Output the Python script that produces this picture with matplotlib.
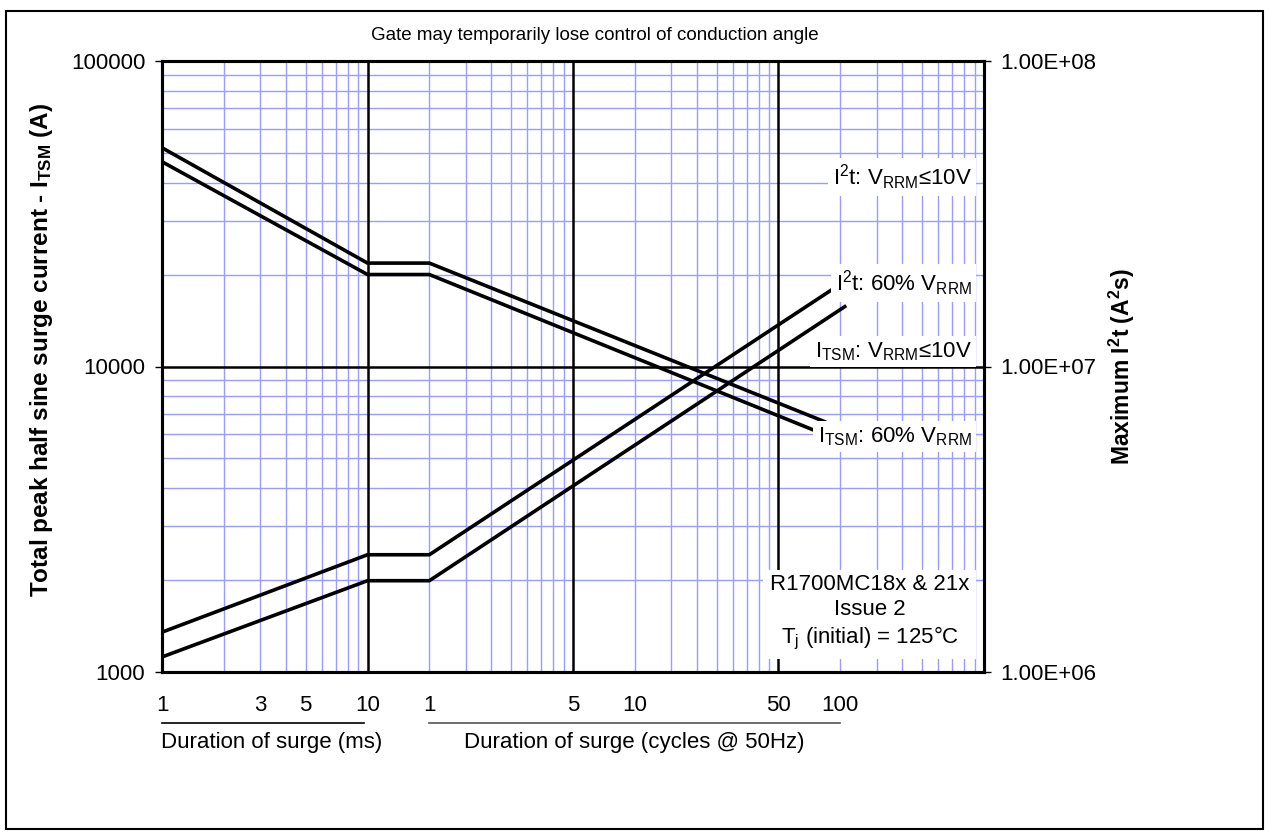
import numpy as np
import matplotlib
matplotlib.use('Agg')
import matplotlib.pyplot as plt
from matplotlib.ticker import LogLocator, NullFormatter, FuncFormatter
from matplotlib.patches import Rectangle

plt.rcParams['font.family'] = ['Liberation Sans', 'DejaVu Sans']
plt.rcParams['mathtext.fontset'] = 'custom'
plt.rcParams['mathtext.rm'] = 'Liberation Sans'
plt.rcParams['mathtext.it'] = 'Liberation Sans:italic'
plt.rcParams['mathtext.bf'] = 'Liberation Sans:bold'

# Surge current curves (time in ms, current in A)
itsm_lowv_t = [1, 10, 20, 1675]
itsm_lowv = [52000, 21800, 21800, 6600]
itsm_60_t = [1, 10, 20, 1530]
itsm_60 = [46800, 20000, 20000, 6140]

# I2t curves (time in ms, I2t in A2s)
i2t_lowv_t = [1, 10, 20, 1855]
i2t_lowv = [1.35e6, 2.42e6, 2.42e6, 1.80e7]
i2t_60_t = [1, 10, 20, 2100]
i2t_60 = [1.12e6, 1.99e6, 1.99e6, 1.57e7]

# bottom scale labels
ms_ticks = [1, 3, 5, 10]
cycle_ticks = [1, 5, 10, 50, 100]
ms_per_cycle = 20  # 50 Hz

W, H = 1268, 834
fig = plt.figure(figsize=(W / 100, H / 100), dpi=100)
ax = fig.add_axes([162 / W, 1 - 672 / H, 822 / W, 611 / H])

ax.set_xscale('log')
ax.set_yscale('log')
ax.set_xlim(1, 1e4)
ax.set_ylim(1e3, 1e5)
ax.xaxis.set_minor_locator(LogLocator(base=10, subs=np.arange(2, 10)))
ax.yaxis.set_minor_locator(LogLocator(base=10, subs=np.arange(2, 10)))
ax.set_axisbelow(True)
ax.grid(which='minor', color='#9c9cff', lw=1.0)

# heavy reference lines
for xv in [10, 100, 1000]:
    ax.axvline(xv, color='black', lw=1.8, zorder=2)
ax.axhline(1e4, color='black', lw=1.8, zorder=2)

ax.plot(itsm_lowv_t, itsm_lowv, color='black', lw=2.6, zorder=3)
ax.plot(itsm_60_t, itsm_60, color='black', lw=2.6, zorder=3)

for s in ax.spines.values():
    s.set_linewidth(2.2)

ax.tick_params(axis='x', which='both', length=0, labelbottom=False)
ax.tick_params(axis='y', which='major', length=5, width=1, direction='out',
               labelsize=16, pad=7)
ax.tick_params(axis='y', which='minor', length=0)
ax.yaxis.set_major_formatter(FuncFormatter(lambda v, p: f'{v:.0f}'))
ax.yaxis.set_minor_formatter(NullFormatter())

ax2 = ax.twinx()
ax2.set_yscale('log')
ax2.set_ylim(1e6, 1e8)
ax2.plot(i2t_lowv_t, i2t_lowv, color='black', lw=2.6, zorder=3)
ax2.plot(i2t_60_t, i2t_60, color='black', lw=2.6, zorder=3)
ax2.tick_params(axis='y', which='major', length=5, width=1, direction='out',
                labelsize=16, pad=7)
ax2.tick_params(axis='y', which='minor', length=0)
ax2.yaxis.set_major_formatter(FuncFormatter(lambda v, p: f'{v:.2E}'))
ax2.yaxis.set_minor_formatter(NullFormatter())
for s in ax2.spines.values():
    s.set_linewidth(2.2)

# curve labels with white boxes
box = dict(facecolor='white', edgecolor='none', pad=3)
labels = [
    (0.810, r'I$^2$t: V$_{\rm RRM}$≤10V'),
    (0.637, r'I$^2$t: 60% V$_{\rm RRM}$'),
    (0.524, r'I$_{\rm TSM}$: V$_{\rm RRM}$≤10V'),
    (0.385, r'I$_{\rm TSM}$: 60% V$_{\rm RRM}$'),
]
for yy, txt in labels:
    ax2.text(0.985, yy, txt, transform=ax2.transAxes, ha='right', va='center',
             fontsize=16, bbox=box, zorder=5)

ax2.text(0.861, 0.097, 'R1700MC18x & 21x\nIssue 2\nT$_{\\rm j}$ (initial) = 125°C',
         transform=ax2.transAxes, ha='center', va='center', multialignment='center',
         fontsize=16, linespacing=1.27, bbox=dict(facecolor='white', edgecolor='none', pad=5),
         zorder=5)

# bottom duration scales
tr = ax.get_xaxis_transform()
for v in ms_ticks:
    ax.text(v, -0.055, str(v), transform=tr, ha='center', va='center', fontsize=16,
            clip_on=False)
for v in cycle_ticks:
    ax.text(v * ms_per_cycle, -0.055, str(v), transform=tr, ha='center', va='center',
            fontsize=16, clip_on=False)
ax.plot([1, 9.6], [-0.0835, -0.0835], transform=tr, color='black', lw=1.2, clip_on=False)
ax.plot([20, 1990], [-0.0835, -0.0835], transform=tr, color='#555555', lw=1.2, clip_on=False)
ax.text(3.4, -0.116, 'Duration of surge (ms)', transform=tr, ha='center', va='center',
        fontsize=16, clip_on=False)
ax.text(198, -0.116, 'Duration of surge (cycles @ 50Hz)', transform=tr, ha='center',
        va='center', fontsize=16, clip_on=False)

fig.text(594.5 / W, 1 - 35 / H, 'Gate may temporarily lose control of conduction angle',
         ha='center', va='center', fontsize=13.5)
fig.text(42 / W, 1 - 350 / H, r'Total peak half sine surge current - I$_{\mathbf{TSM}}$ (A)',
         rotation=90, ha='center', va='center', fontsize=17.5, fontweight='bold')
fig.text(1122 / W, 1 - 366 / H, r'Maximum I$^{\mathbf{2}}$t (A$^{\mathbf{2}}$s)',
         rotation=90, ha='center', va='center', fontsize=16.5, fontweight='bold')

fig.add_artist(Rectangle((6 / W, 1 - 829 / H), 1257 / W, 818 / H, transform=fig.transFigure,
                         fill=False, edgecolor='black', lw=1.5))

fig.savefig('out.png', dpi=100)
